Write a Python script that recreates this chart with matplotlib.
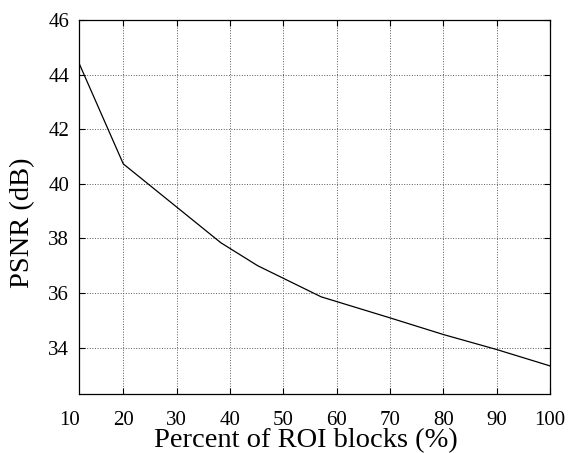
import matplotlib.pyplot as plt
import matplotlib.transforms as mtransforms

# values
roi_percent = [11.7, 20, 38.3, 45.2, 57.1, 70, 80, 90, 100]
psnr_db = [44.42, 40.73, 37.84, 37.0, 35.86, 35.09, 34.48, 33.93, 33.33]
x_ticks = [20, 30, 40, 50, 60, 70, 80, 90, 100]
y_ticks = [34, 36, 38, 40, 42, 44, 46]

plt.rcParams['font.family'] = ['Liberation Serif', 'DejaVu Serif']

fig = plt.figure(figsize=(5.75, 4.53), dpi=100)
ax = fig.add_axes([0.1374, 0.1302, 0.8191, 0.8256])

ax.plot(roi_percent, psnr_db, color='black', linewidth=0.9)

ax.set_xlim(11.7, 100)
ax.set_ylim(32.3, 46)
ax.set_xticks(x_ticks)
ax.set_yticks(y_ticks)
ax.tick_params(direction='in', length=4, width=0.8, top=True, right=True,
               labelsize=15)
ax.tick_params(axis='x', pad=12)
ax.tick_params(axis='y', pad=7)
ax.grid(True, linestyle=':', color='0.35', linewidth=0.7)

# the "10" label sits left of the axis, outside the view limits
trans = mtransforms.blended_transform_factory(ax.transData, ax.transAxes)
offset = mtransforms.ScaledTranslation(0, -12 / 72, fig.dpi_scale_trans)
ax.text(10, 0, '10', transform=trans + offset, fontsize=15,
        ha='center', va='top', clip_on=False)

for s in ax.spines.values():
    s.set_linewidth(0.9)

ax.set_xlabel('Percent of ROI blocks (%)', fontsize=20.5)
ax.set_ylabel('PSNR (dB)', fontsize=20.5)
ax.xaxis.set_label_coords(0.482, -0.091)
ax.yaxis.set_label_coords(-0.093, 0.458)

plt.savefig('out.png', dpi=100)
